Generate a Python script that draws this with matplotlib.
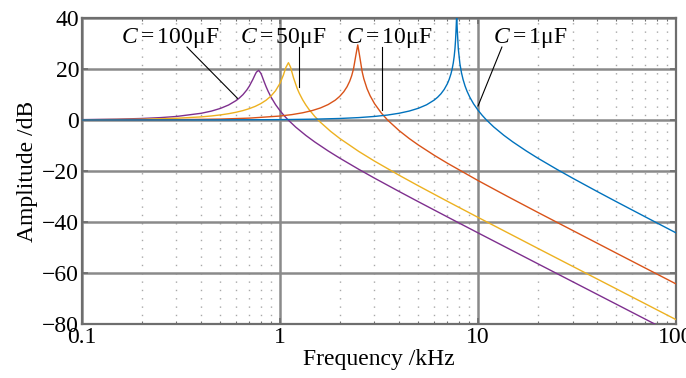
import matplotlib
matplotlib.use("Agg")
import matplotlib.pyplot as plt
from matplotlib.ticker import LogLocator, NullFormatter

plt.rcParams['font.family'] = ['Liberation Serif', 'DejaVu Serif']
plt.rcParams['mathtext.fontset'] = 'custom'
plt.rcParams['mathtext.rm'] = 'Liberation Serif'
plt.rcParams['mathtext.it'] = 'Liberation Serif:italic'

# ---- data (frequency in kHz, amplitude in dB) ----
freq_100uF = [0.1, 0.15, 0.2, 0.25, 0.3, 0.4, 0.45, 0.5, 0.55, 0.6, 0.62, 0.65, 0.68, 0.7, 0.73, 0.75, 0.76, 0.78,
              0.80, 0.81, 0.83, 0.85, 0.87, 0.9, 0.95, 1.0, 1.05, 1.1, 1.2, 1.35, 1.5, 1.75, 2, 2.5, 3, 4, 5, 7,
              10, 20, 50, 100]
amp_100uF = [0.14, 0.33, 0.59, 0.94, 1.38, 2.63, 3.48, 4.54, 5.88, 7.61, 8.46, 9.94, 11.79, 13.28, 15.97, 17.92, 18.76,
             19.46, 18.36, 17.36, 15.18, 13.13, 11.33, 9.04, 6.01, 3.64, 1.67, 0.0, -2.78, -6.04, -8.65, -12.13, -14.93,
             -19.35, -22.80, -28.06, -32.06, -38.01, -44.27, -56.34, -72.27, -84.32]

freq_50uF = [0.1, 0.2, 0.3, 0.4, 0.45, 0.5, 0.55, 0.6, 0.65, 0.7, 0.75, 0.8, 0.85, 0.9, 0.95, 1.0, 1.04, 1.07,
             1.103, 1.13, 1.17, 1.22, 1.25, 1.3, 1.35, 1.4, 1.5, 1.6, 1.8, 2, 2.5, 3, 4, 5, 7, 10, 20, 50, 100]
amp_50uF = [0.07, 0.29, 0.67, 1.22, 1.58, 1.99, 2.47, 3.03, 3.69, 4.45, 5.35, 6.43, 7.74, 9.37, 11.50, 14.39, 17.61,
            20.56, 22.48, 20.76, 16.57, 12.45, 10.55, 7.98, 5.91, 4.17, 1.35, -0.90, -4.44, -7.20, -12.34, -16.12,
            -21.69, -25.82, -31.88, -38.19, -50.31, -66.25, -78.30]

freq_10uF = [0.1, 0.3, 0.5, 0.7, 1.0, 1.15, 1.3, 1.45, 1.6, 1.75, 1.9, 2.0, 2.1, 2.18, 2.25, 2.3, 2.35, 2.42, 2.47,
             2.52, 2.6, 2.65, 2.75, 2.85, 3.0, 3.25, 3.5, 4, 4.5, 5, 6, 7, 10, 14, 20, 50, 100]
amp_10uF = [0.01, 0.13, 0.36, 0.73, 1.55, 2.12, 2.82, 3.67, 4.72, 6.05, 7.76, 9.23, 11.10, 13.03, 15.24, 17.30, 19.99,
            25.71, 29.45, 25.45, 18.89, 16.17, 12.30, 9.54, 6.43, 2.70, -0.08, -4.20, -7.31, -9.82, -13.81, -16.94,
            -23.75, -29.86, -36.20, -52.23, -64.29]

freq_1uF = [0.1, 0.5, 1, 1.5, 2, 2.5, 3, 3.5, 4, 4.5, 5, 5.5, 6, 6.25, 6.5, 6.75, 7, 7.15, 7.3, 7.4, 7.5, 7.58, 7.65,
            7.7, 7.75, 7.8, 7.85, 7.95, 8.1, 8.25, 8.4, 8.6, 8.8, 9.1, 9.5, 10, 10.5, 11, 12, 13.5, 15, 17.5, 20,
            25, 30, 40, 50, 70, 100]
amp_1uF = [0.00, 0.04, 0.14, 0.33, 0.59, 0.94, 1.39, 1.95, 2.65, 3.52, 4.60, 5.97, 7.78, 8.92, 10.29, 12.00, 14.21,
           15.93, 18.10, 19.96, 22.38, 24.97, 28.10, 31.30, 35.80, 41.0, 35.77, 27.93, 22.04, 18.51, 15.93, 13.32,
           11.28, 8.85, 6.31, 3.83, 1.81, 0.10, -2.72, -6.00, -8.62, -12.11, -14.93, -19.34, -22.79, -28.06,
           -32.06, -38.01, -44.27]

series = [
    (freq_100uF, amp_100uF, '#7E2F8E'),
    (freq_50uF, amp_50uF, '#EDB120'),
    (freq_10uF, amp_10uF, '#D95319'),
    (freq_1uF, amp_1uF, '#0072BD'),
]

x_ticks = [0.1, 1, 10, 100]
x_ticklabels = ['0.1', '1', '10', '100']
y_ticks = [-80, -60, -40, -20, 0, 20, 40]
y_ticklabels = ['\u221280', '\u221260', '\u221240', '\u221220', '0', '20', '40']

# annotations: (text, text position, leader start, leader end)
annotations = [
    ('$C=$100\u03bcF', (0.157, 32.0), (0.339, 28.6), (0.61, 8.5)),
    ('$C=$50\u03bcF', (0.628, 32.0), (1.25, 28.6), (1.25, 12.8)),
    ('$C=$10\u03bcF', (2.154, 32.0), (3.27, 28.6), (3.27, 3.9)),
    ('$C=$1\u03bcF', (11.9, 32.0), (13.2, 28.6), (10.0, 5.5)),
]

FS = 17

fig = plt.figure(figsize=(6.86, 3.78), dpi=100)
ax = fig.add_axes([0.1195, 0.1429, 0.866, 0.8095])
ax.set_xscale('log')

for f, a, c in series:
    ax.plot(f, a, color=c, lw=1.0, zorder=3)

ax.set_xlim(0.1, 100)
ax.set_ylim(-80, 40)
ax.set_xticks(x_ticks)
ax.set_xticklabels(x_ticklabels)
ax.xaxis.set_minor_locator(LogLocator(base=10, subs=range(2, 10)))
ax.xaxis.set_minor_formatter(NullFormatter())
ax.set_yticks(y_ticks)
ax.set_yticklabels(y_ticklabels)

ax.grid(which='major', color='#8a8a8a', lw=1.8, ls='-', zorder=1)
ax.xaxis.grid(which='minor', color='#a8a8a8', lw=1.0, ls=(0, (1, 5)))
ax.set_axisbelow(True)

for s in ax.spines.values():
    s.set_color('#6e6e6e')
    s.set_linewidth(1.6)

ax.tick_params(which='major', direction='in', top=True, right=True, length=4, width=1.2,
               color='#6e6e6e', labelsize=FS, pad=2)
ax.tick_params(which='minor', direction='in', top=True, right=True, length=2, width=0.8, color='#6e6e6e')

ax.set_xlabel('Frequency /kHz', fontsize=FS, labelpad=1)
ax.set_ylabel('Amplitude /dB', fontsize=FS, labelpad=3)

for txt, tpos, p0, p1 in annotations:
    ax.text(tpos[0], tpos[1], txt, fontsize=FS, ha='left', va='center', zorder=4)
    ax.plot([p0[0], p1[0]], [p0[1], p1[1]], color='black', lw=0.8, zorder=4)

fig.savefig('out.png', dpi=100)
